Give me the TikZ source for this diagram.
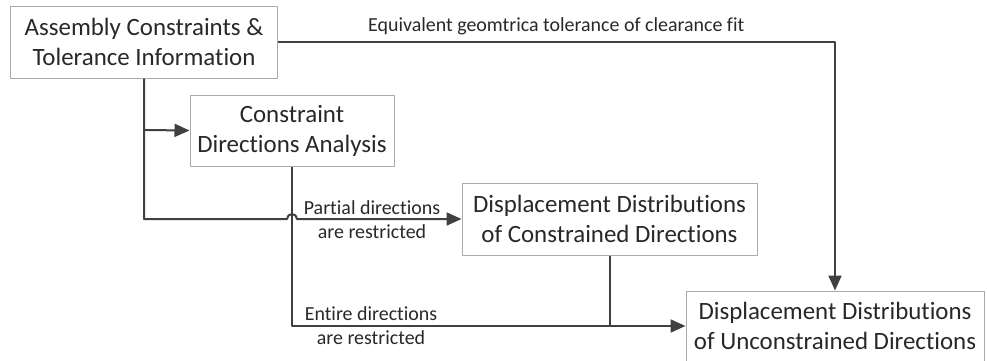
\documentclass[tikz,border=0pt]{standalone}
\usepackage{fontspec}
\setmainfont{Carlito}[Ligatures=NoCommon]
\usetikzlibrary{arrows.meta}
\definecolor{linecol}{RGB}{64,64,64}
\definecolor{boxcol}{RGB}{170,170,170}
\definecolor{textcol}{RGB}{40,40,40}
\begin{document}
\begin{tikzpicture}[x=1bp,y=-1bp,>={Triangle[length=15bp,width=13bp]},line join=bevel,
	box/.style={draw=boxcol,line width=1bp,fill=white,align=center,inner sep=0pt,text=textcol,font=\fontsize{25}{30}\selectfont},
	flow/.style={draw=linecol,line width=2bp},
	lbl/.style={text=textcol,align=center,inner sep=0pt,font=\fontsize{20}{24}\selectfont}]
	\useasboundingbox (0,0) rectangle (987,360);
	%%
	\node (asm) at (144,42) [box,minimum width=266bp,minimum height=72bp] {Assembly Constraints \&\\Tolerance Information};
	  \node (cda) at (292,130.5) [box,minimum width=204bp,minimum height=71bp] {Constraint\\Directions Analysis};
	  \node (ddc) at (609.5,219) [box,minimum width=295bp,minimum height=72bp] {Displacement Distributions\\of Constrained Directions};
	  \node (ddu) at (835,326) [box,minimum width=298bp,minimum height=70bp] {Displacement Distributions\\of Unconstrained Directions};
	  \coordinate (br) at (144,130);
	  \coordinate (hop) at (287,219);

	  \draw [flow,->] (asm.east) -| node[lbl,pos=0.25,above=6bp]{Equivalent geomtrica tolerance of clearance fit} (ddu.north);
	  \draw [flow,->] (br) -- (cda.west);
	  \draw [flow,->] (asm.south) |- (hop) arc[start angle=180,end angle=0,radius=5bp] -- (ddc.west);
	  \draw [flow,->] (cda.south) |- (ddu.west);
	  \draw [flow] (ddc.south) -- (ddc.south |- ddu.west);

	  \node (pdr) at (372,220) [lbl] {Partial directions\\are restricted};
	  \node (edr) at (371,326) [lbl] {Entire directions\\are restricted};
	%
\end{tikzpicture}
\end{document}
